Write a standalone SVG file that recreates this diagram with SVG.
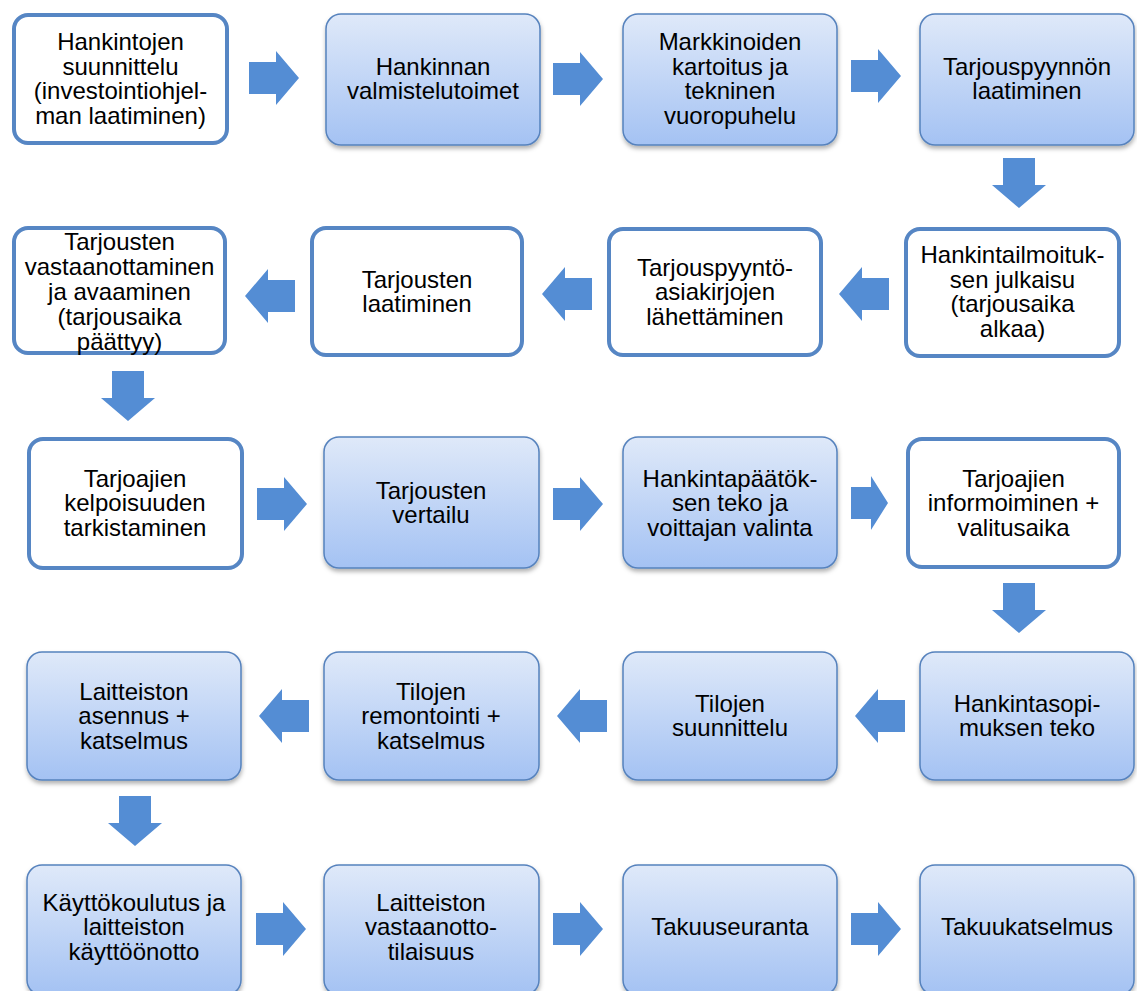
<svg xmlns="http://www.w3.org/2000/svg" width="1137" height="991" viewBox="0 0 1137 991">
<defs>
<linearGradient id="g" x1="0" y1="0" x2="0" y2="1">
<stop offset="0" stop-color="#dfe9f9"/>
<stop offset="1" stop-color="#a4c2f3"/>
</linearGradient>
<filter id="sh" x="-10%" y="-10%" width="120%" height="125%">
<feDropShadow dx="0.5" dy="3" stdDeviation="2" flood-color="#000" flood-opacity="0.3"/>
</filter>
<path id="arr" d="M0,-16 H27 V-27 L50,0 L27,27 V16 H0 Z"/>
<style>
.w{fill:#fff;stroke:#5686c4;stroke-width:4}
.b{fill:url(#g);stroke:#5682bd;stroke-width:1.5;filter:url(#sh)}
.t{font-family:"Liberation Sans",Arial,sans-serif;font-size:24px;fill:#000;text-anchor:middle}
.a{fill:#548dd4}
</style>
</defs>
<rect width="1137" height="991" fill="#fff"/>
<g id="connectors">
<use href="#arr" class="a" transform="translate(249,78)"/>
<use href="#arr" class="a" transform="translate(553,79)"/>
<use href="#arr" class="a" transform="translate(851,76)"/>
<use href="#arr" class="a" transform="translate(1019,158) rotate(90)"/>
<use href="#arr" class="a" transform="translate(889,294) rotate(180)"/>
<use href="#arr" class="a" transform="translate(592,294) rotate(180)"/>
<use href="#arr" class="a" transform="translate(295,296) rotate(180)"/>
<use href="#arr" class="a" transform="translate(128,371) rotate(90)"/>
<use href="#arr" class="a" transform="translate(257,504)"/>
<use href="#arr" class="a" transform="translate(553,504)"/>
<use href="#arr" class="a" transform="translate(851,503) scale(0.74,1)"/>
<use href="#arr" class="a" transform="translate(1019,583) rotate(90)"/>
<use href="#arr" class="a" transform="translate(905,716) rotate(180)"/>
<use href="#arr" class="a" transform="translate(607,716) rotate(180)"/>
<use href="#arr" class="a" transform="translate(309,716) rotate(180)"/>
<use href="#arr" class="a" transform="translate(135,796) rotate(90)"/>
<use href="#arr" class="a" transform="translate(256,929)"/>
<use href="#arr" class="a" transform="translate(553,929)"/>
<use href="#arr" class="a" transform="translate(851,929)"/>
</g>
<g id="n1"><rect class="w" x="14" y="15" width="213" height="128" rx="14"/>
<text class="t"><tspan x="120.5" y="50.25">Hankintojen</tspan><tspan x="120.5" y="74.75">suunnittelu</tspan><tspan x="120.5" y="99.25">(investointiohjel-</tspan><tspan x="120.5" y="123.75">man laatiminen)</tspan></text></g>
<g id="n2"><rect class="b" x="326" y="14" width="214" height="131" rx="15"/>
<text class="t"><tspan x="433" y="74.75">Hankinnan</tspan><tspan x="433" y="99.25">valmistelutoimet</tspan></text></g>
<g id="n3"><rect class="b" x="623" y="14" width="214" height="131" rx="15"/>
<text class="t"><tspan x="730" y="50.25">Markkinoiden</tspan><tspan x="730" y="74.75">kartoitus ja</tspan><tspan x="730" y="99.25">tekninen</tspan><tspan x="730" y="123.75">vuoropuhelu</tspan></text></g>
<g id="n4"><rect class="b" x="920" y="14" width="214" height="131" rx="15"/>
<text class="t"><tspan x="1027" y="74.75">Tarjouspyynnön</tspan><tspan x="1027" y="99.25">laatiminen</tspan></text></g>
<g id="n5"><rect class="w" x="906" y="229" width="213" height="127" rx="14"/>
<text class="t"><tspan x="1012.5" y="263.25">Hankintailmoituk-</tspan><tspan x="1012.5" y="287.75">sen julkaisu</tspan><tspan x="1012.5" y="312.25">(tarjousaika</tspan><tspan x="1012.5" y="336.75">alkaa)</tspan></text></g>
<g id="n6"><rect class="w" x="609" y="229" width="212" height="126" rx="14"/>
<text class="t"><tspan x="715" y="275.5">Tarjouspyyntö-</tspan><tspan x="715" y="300">asiakirjojen</tspan><tspan x="715" y="324.5">lähettäminen</tspan></text></g>
<g id="n7"><rect class="w" x="312" y="228" width="210" height="127" rx="14"/>
<text class="t"><tspan x="417" y="287.75">Tarjousten</tspan><tspan x="417" y="312.25">laatiminen</tspan></text></g>
<g id="n8"><rect class="w" x="14" y="228" width="211" height="125" rx="14"/>
<text class="t"><tspan x="119.5" y="250">Tarjousten</tspan><tspan x="119.5" y="275">vastaanottaminen</tspan><tspan x="119.5" y="300">ja avaaminen</tspan><tspan x="119.5" y="325">(tarjousaika</tspan><tspan x="119.5" y="350">päättyy)</tspan></text></g>
<g id="n9"><rect class="w" x="29" y="439" width="213" height="129" rx="14"/>
<text class="t"><tspan x="135" y="486.5">Tarjoajien</tspan><tspan x="135" y="511">kelpoisuuden</tspan><tspan x="135" y="535.5">tarkistaminen</tspan></text></g>
<g id="n10"><rect class="b" x="324" y="437" width="215" height="131" rx="15"/>
<text class="t"><tspan x="431" y="498.75">Tarjousten</tspan><tspan x="431" y="523.25">vertailu</tspan></text></g>
<g id="n11"><rect class="b" x="623" y="437" width="214" height="131" rx="15"/>
<text class="t"><tspan x="730" y="486.5">Hankintapäätök-</tspan><tspan x="730" y="511">sen teko ja</tspan><tspan x="730" y="535.5">voittajan valinta</tspan></text></g>
<g id="n12"><rect class="w" x="908" y="439" width="211" height="128" rx="14"/>
<text class="t"><tspan x="1013.5" y="486.5">Tarjoajien</tspan><tspan x="1013.5" y="511">informoiminen +</tspan><tspan x="1013.5" y="535.5">valitusaika</tspan></text></g>
<g id="n13"><rect class="b" x="920" y="652" width="214" height="128" rx="15"/>
<text class="t"><tspan x="1027" y="711.75">Hankintasopi-</tspan><tspan x="1027" y="736.25">muksen teko</tspan></text></g>
<g id="n14"><rect class="b" x="623" y="652" width="214" height="128" rx="15"/>
<text class="t"><tspan x="730" y="711.75">Tilojen</tspan><tspan x="730" y="736.25">suunnittelu</tspan></text></g>
<g id="n15"><rect class="b" x="324" y="652" width="215" height="128" rx="15"/>
<text class="t"><tspan x="431" y="699.5">Tilojen</tspan><tspan x="431" y="724">remontointi +</tspan><tspan x="431" y="748.5">katselmus</tspan></text></g>
<g id="n16"><rect class="b" x="27" y="652" width="214" height="128" rx="15"/>
<text class="t"><tspan x="134" y="699.5">Laitteiston</tspan><tspan x="134" y="724">asennus +</tspan><tspan x="134" y="748.5">katselmus</tspan></text></g>
<g id="n17"><rect class="b" x="27" y="865" width="214" height="130" rx="15"/>
<text class="t"><tspan x="134" y="910.5">Käyttökoulutus ja</tspan><tspan x="134" y="935">laitteiston</tspan><tspan x="134" y="959.5">käyttöönotto</tspan></text></g>
<g id="n18"><rect class="b" x="324" y="865" width="215" height="130" rx="15"/>
<text class="t"><tspan x="431" y="910.5">Laitteiston</tspan><tspan x="431" y="935">vastaanotto-</tspan><tspan x="431" y="959.5">tilaisuus</tspan></text></g>
<g id="n19"><rect class="b" x="623" y="865" width="214" height="130" rx="15"/>
<text class="t"><tspan x="730" y="935">Takuuseuranta</tspan></text></g>
<g id="n20"><rect class="b" x="920" y="865" width="214" height="130" rx="15"/>
<text class="t"><tspan x="1027" y="935">Takuukatselmus</tspan></text></g>
</svg>
